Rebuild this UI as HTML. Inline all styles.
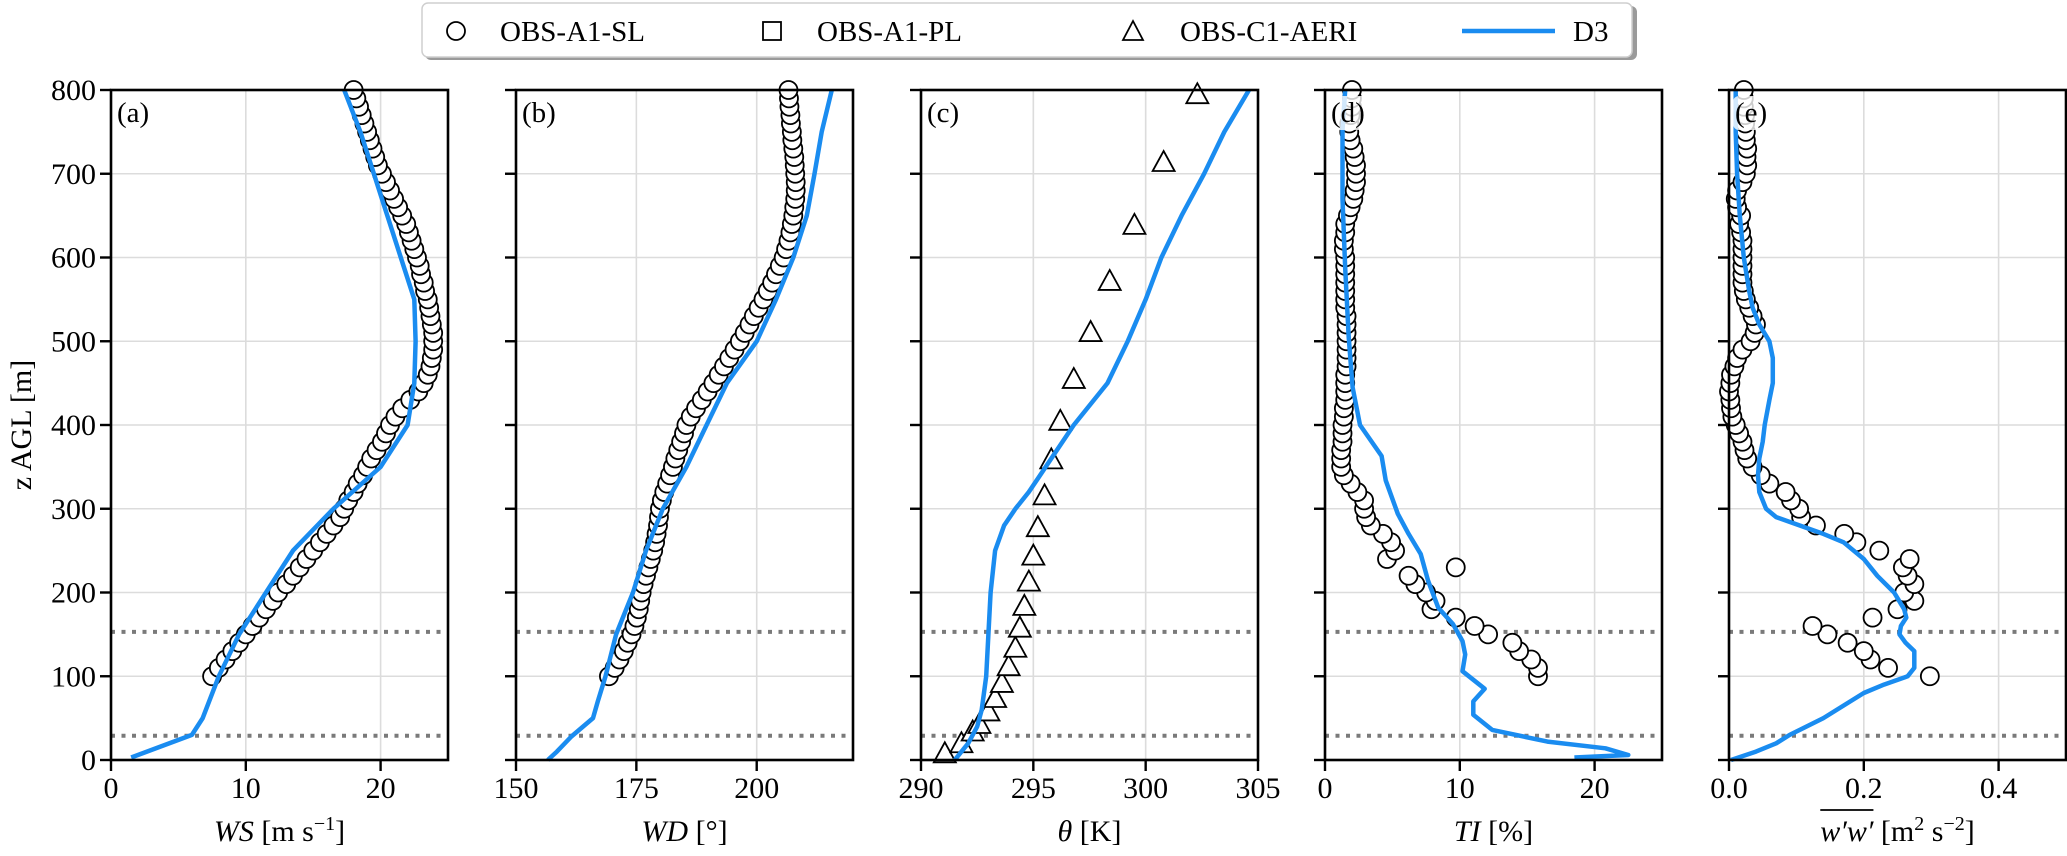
<!DOCTYPE html>
<html><head><meta charset="utf-8">
<style>
html,body{margin:0;padding:0;background:#fff;}
svg{display:block;font-family:"Liberation Serif","DejaVu Serif",serif;}
</style></head>
<body>
<svg id="chart" width="2067" height="856" viewBox="0 0 2067 856" xmlns="http://www.w3.org/2000/svg"></svg>
<script>
// ---- data ----
const obsZ = [100,110,120,130,140,150,160,170,180,190,200,210,220,230,240,250,260,270,280,290,300,310,320,330,340,350,360,370,380,390,400,410,420,430,440,450,460,470,480,490,500,510,520,530,540,550,560,570,580,590,600,610,620,630,640,650,660,670,680,690,700,710,720,730,740,750,760,770,780,790,800];
const wsObs = [7.5,8,8.5,9,9.5,10,10.5,11,11.5,12,12.4,13,13.5,14,14.5,15,15.5,16,16.5,17,17.3,17.6,18,18.3,18.7,19,19.3,19.7,20.1,20.4,20.7,21.1,21.6,22.2,22.8,23.2,23.5,23.7,23.8,23.9,23.9,23.9,23.8,23.7,23.6,23.5,23.3,23.2,23.0,22.9,22.7,22.5,22.3,22.1,21.9,21.6,21.3,21,20.7,20.4,20.1,19.8,19.6,19.4,19.2,19,18.8,18.6,18.4,18.2,18];
const wdObs = [169.3,170.5,171.5,172.4,173.2,174,174.6,175.1,175.5,175.8,176.1,176.5,177,177.5,178,178.5,178.9,179.2,179.5,179.7,179.9,180.3,180.8,181.4,182,182.6,183.1,183.7,184.3,184.9,185.4,186.3,187.4,188.6,189.8,191,192.1,193.2,194.3,195.4,196.5,197.5,198.5,199.4,200.4,201.4,202.3,203.2,204,204.8,205.6,206.1,206.6,207,207.3,207.6,207.8,208,208.1,208.1,208,207.9,207.8,207.6,207.4,207.3,207.1,207,206.8,206.7,206.6];
const tiObs = [15.8,15.8,15.3,14.4,13.9,12.1,11.1,9.7,7.9,8.2,7.5,6.7,6.2,9.7,4.6,5.2,4.9,4.3,3.4,3.05,2.9,2.9,2.4,1.9,1.4,1.2,1.2,1.2,1.3,1.3,1.3,1.4,1.4,1.5,1.5,1.5,1.5,1.6,1.6,1.6,1.6,1.6,1.6,1.6,1.5,1.5,1.5,1.5,1.5,1.5,1.5,1.4,1.4,1.5,1.5,1.7,1.9,2.1,2.2,2.3,2.3,2.3,2.2,2.1,1.9,1.8,1.8,1.9,2.0,2.0,2.0];
const wwObs = [.298,.236,.21,.2,.176,.146,.124,.213,.25,.275,.26,.275,.265,.258,.268,.223,.189,.171,.129,.107,.104,.092,.084,.06,.047,.035,.027,.023,.02,.015,.01,.005,.003,.002,0,.002,.003,.008,.012,.02,.032,.038,.04,.035,.03,.025,.022,.02,.02,.02,.02,.02,.02,.018,.015,.018,.012,.01,.012,.02,.025,.027,.026,.027,.025,.025,.024,.024,.022,.022,.022];
const aeriZ = [8,20,34,43,58,74,92,112,134,158,184,213,244,278,316,359,405,455,511,572,639,714,795];
const aeriTheta = [291.06,291.8,292.3,292.6,293.0,293.3,293.6,293.9,294.2,294.4,294.6,294.8,295.0,295.2,295.5,295.8,296.2,296.8,297.55,298.4,299.5,300.8,302.3];
const wsZ = [3,30,50,100,150,200,250,300,350,400,450,500,550,600,650,700,750,800];
const wsD3 = [1.5,6,6.8,8,9.5,11.5,13.5,16.5,20,22,22.5,22.6,22.5,21.5,20.5,19.5,18.5,17.3];
const wdZ = [0,10,28,50,70,100,150,200,250,300,350,400,450,500,550,600,650,700,750,800];
const wdD3 = [156.6,158.5,161.5,166,167,168.6,170.8,174.3,177,180.5,185.4,189.6,193.8,200,204,207.6,210.4,212,213.5,215.6];
const thZ = [0,20,40,60,100,150,200,250,280,300,320,340,360,400,450,500,550,600,650,700,750,800];
const thD3 = [291.5,292.1,292.5,292.7,292.9,293.0,293.1,293.3,293.7,294.2,294.8,295.3,295.8,296.8,298.3,299.2,300.0,300.7,301.6,302.6,303.5,304.6];
const tiZ = [3,6,14,22,36,54,70,85,106,126,142,162,182,214,246,270,294,334,363,400,445,505,587,670,752,800];
const tiD3 = [18.5,22.5,20.8,16.5,12.4,11,11,11.85,10.2,10.4,10.2,9.5,8.4,7.65,7.1,6.2,5.4,4.5,4.2,2.6,2.05,1.76,1.5,1.3,1.3,1.5];
const wwZ = [0,10,20,30,50,70,80,90,100,110,130,140,150,160,170,180,200,220,240,260,270,280,290,300,320,340,360,380,400,430,450,480,500,520,540,560,600,650,700,750,800];
const wwD3 = [.003,.04,.07,.09,.14,.18,.2,.23,.265,.275,.275,.262,.253,.255,.263,.26,.245,.22,.2,.17,.14,.105,.07,.055,.045,.043,.045,.05,.053,.06,.065,.065,.06,.045,.035,.03,.022,.016,.012,.01,.01];
const yTicks = [0,100,200,300,400,500,600,700,800];
const refLines = [153,29];

// ---- layout ----
const NS="http://www.w3.org/2000/svg";
const svg=document.getElementById('chart');
const TOP=90,BOT=760,PW=337;
const lefts=[111,516,921,1325,1729];
function el(tag,attrs,parent){const e=document.createElementNS(NS,tag);for(const k in attrs)e.setAttribute(k,attrs[k]);(parent||svg).appendChild(e);return e;}
const yS=z=>BOT-(z/800)*(BOT-TOP);

const panels=[
 {id:'a',lab:'(a)',min:0,max:25,ticks:[0,10,20],tl:['0','10','20'],title:'ws'},
 {id:'b',lab:'(b)',min:150,max:220,ticks:[150,175,200],tl:['150','175','200'],title:'wd'},
 {id:'c',lab:'(c)',min:290,max:305,ticks:[290,295,300,305],tl:['290','295','300','305'],title:'th'},
 {id:'d',lab:'(d)',min:0,max:25,ticks:[0,10,20],tl:['0','10','20'],title:'ti'},
 {id:'e',lab:'(e)',min:0,max:0.5,ticks:[0,0.2,0.4],tl:['0.0','0.2','0.4'],title:'ww'}
];
panels.forEach((p,i)=>{p.x0=lefts[i];p.xS=v=>p.x0+(v-p.min)/(p.max-p.min)*PW;});

function linePath(p,zs,vs,name){
  let d='';zs.forEach((z,k)=>{d+=(k?'L':'M')+p.xS(vs[k]).toFixed(1)+' '+yS(z).toFixed(1);});
  const e=el('path',{d:d,fill:'none',stroke:'#1a8cf0','stroke-width':4.5,'stroke-linejoin':'round'},p.g);
  
  
}
function circles(p,zs,vs,name){
  const g=el('g',{},p.g);
  
  
  zs.forEach((z,k)=>{
    const c=el('circle',{cx:p.xS(vs[k]),cy:yS(z),r:9,fill:'#fff',stroke:'#000','stroke-width':1.8},g);
    
    
  });
}

panels.forEach((p,i)=>{
  const g=el('g',{});
  
  
  p.g=g;
  const clip=el('clipPath',{id:'clip'+p.id},g);
  el('rect',{x:p.x0-12,y:TOP-12,width:PW+24,height:BOT-TOP+24},clip);
  yTicks.forEach(z=>{el('line',{x1:p.x0,x2:p.x0+PW,y1:yS(z),y2:yS(z),stroke:'#dcdcdc','stroke-width':1.6},g);});
  p.ticks.forEach(v=>{el('line',{x1:p.xS(v),x2:p.xS(v),y1:TOP,y2:BOT,stroke:'#dcdcdc','stroke-width':1.6},g);});
  refLines.forEach(z=>{const l=el('line',{x1:p.x0,x2:p.x0+PW,y1:yS(z),y2:yS(z),stroke:'#7a7a7a','stroke-width':4,'stroke-dasharray':'4 6.5'},g);
    
    });
  const dg=el('g',{'clip-path':'url(#clip'+p.id+')'},g);
  p.g=dg;
  if(p.id==='a'){circles(p,obsZ,wsObs,'obs-a1-sl-ws');linePath(p,wsZ,wsD3,'d3-ws-line');}
  if(p.id==='b'){circles(p,obsZ,wdObs,'obs-a1-sl-wd');linePath(p,wdZ,wdD3,'d3-wd-line');}
  if(p.id==='c'){
    const tg=el('g',{},dg);
    
    
    aeriZ.forEach((z,k)=>{const x=p.xS(aeriTheta[k]),y=yS(z);
      const t=el('polygon',{points:`${x-11},${y+9} ${x+11},${y+9} ${x},${y-11}`,fill:'#fff',stroke:'#000','stroke-width':1.8},tg);
      
      });
    linePath(p,thZ,thD3,'d3-theta-line');}
  if(p.id==='d'){circles(p,obsZ,tiObs,'obs-a1-sl-ti');linePath(p,tiZ,tiD3,'d3-ti-line');}
  if(p.id==='e'){circles(p,obsZ,wwObs,'obs-a1-sl-ww');linePath(p,wwZ,wwD3,'d3-ww-line');}
  el('rect',{x:p.x0+4,y:TOP+6,width:40,height:34,rx:6,fill:'#fff','fill-opacity':0.8},g);
  const lb=el('text',{x:p.x0+6,y:TOP+32,'font-size':29},g);lb.textContent=p.lab;
  
  
  el('rect',{x:p.x0,y:TOP,width:PW,height:BOT-TOP,fill:'none',stroke:'#000','stroke-width':2.6},g);
  yTicks.forEach(z=>{el('line',{x1:p.x0-11,x2:p.x0,y1:yS(z),y2:yS(z),stroke:'#000','stroke-width':2.4},g);
    if(i===0){const t=el('text',{x:p.x0-15,y:yS(z)+10,'font-size':30,'text-anchor':'end'},g);t.textContent=String(z);
      
      }});
  p.ticks.forEach((v,k)=>{const x=p.xS(v);el('line',{x1:x,x2:x,y1:BOT,y2:BOT+11,stroke:'#000','stroke-width':2.4},g);
    const t=el('text',{x:x,y:BOT+38,'font-size':30,'text-anchor':'middle'},g);t.textContent=p.tl[k];
    
    });
  const cx=p.x0+PW/2;
  const tt=el('text',{x:cx,y:841,'font-size':30,'text-anchor':'middle'},g);
  
  
  if(p.title==='ws') tt.innerHTML='<tspan font-style="italic">WS</tspan> [m s<tspan dy="-11" font-size="20">−1</tspan><tspan dy="11">]</tspan>';
  if(p.title==='wd') tt.innerHTML='<tspan font-style="italic">WD</tspan> [°]';
  if(p.title==='th') tt.innerHTML='<tspan font-style="italic">θ</tspan> [K]';
  if(p.title==='ti') tt.innerHTML='<tspan font-style="italic">TI</tspan> [%]';
  if(p.title==='ww'){ tt.innerHTML='<tspan font-style="italic">w′w′</tspan> [m<tspan dy="-11" font-size="20">2</tspan><tspan dy="11"> s</tspan><tspan dy="-11" font-size="20">−2</tspan><tspan dy="11">]</tspan>';
    let ox1=cx-60,ox2=cx+6;
    try{ox1=tt.getStartPositionOfChar(0).x;ox2=tt.getEndPositionOfChar(3).x;}catch(e){}
    const ol=el('line',{x1:ox1,x2:ox2,y1:810,y2:810,stroke:'#000','stroke-width':1.8},g);
    
    }
});
const yt=el('text',{x:0,y:0,'font-size':30,'text-anchor':'middle',transform:'translate(31,425) rotate(-90)'});
yt.textContent='z AGL [m]';



const lg=el('g',{});


el('rect',{x:425,y:6,width:1212,height:54,rx:6,fill:'#9a9a9a'},lg);
el('rect',{x:422,y:3,width:1210,height:54,rx:6,fill:'#fff',stroke:'#cfcfcf','stroke-width':1.5},lg);
const LY=31;
function legText(x,s,name){const t=el('text',{x:x,y:LY+10,'font-size':29},lg);t.textContent=s;
  
  }
el('circle',{cx:456,cy:LY,r:9,fill:'#fff',stroke:'#000','stroke-width':1.8},lg);
legText(500,'OBS-A1-SL','legend-entry-obs-a1-sl');
el('rect',{x:763,y:LY-9,width:18,height:18,fill:'#fff',stroke:'#000','stroke-width':1.8},lg);
legText(817,'OBS-A1-PL','legend-entry-obs-a1-pl');
el('polygon',{points:`1123,${LY+9} 1143,${LY+9} 1133,${LY-10}`,fill:'#fff',stroke:'#000','stroke-width':1.8},lg);
legText(1180,'OBS-C1-AERI','legend-entry-obs-c1-aeri');
el('line',{x1:1462,x2:1555,y1:LY,y2:LY,stroke:'#1a8cf0','stroke-width':4.5},lg);
legText(1573,'D3','legend-entry-d3');
</script>
</body></html>
